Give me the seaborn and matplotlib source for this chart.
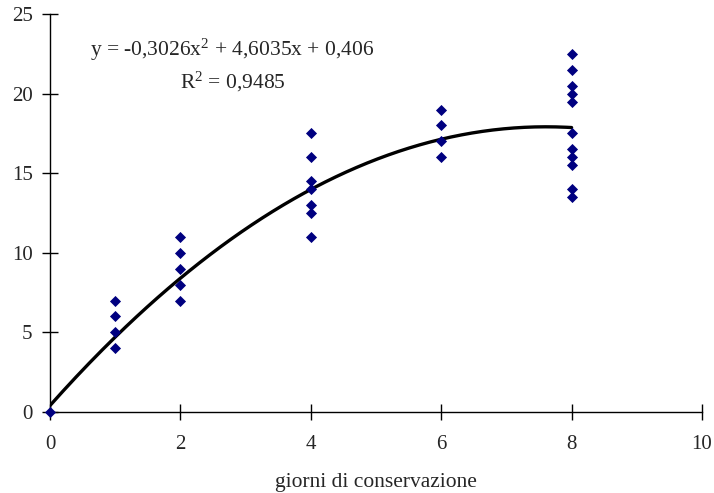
import numpy as np
import pandas as pd
import matplotlib
matplotlib.use("Agg")
import matplotlib.pyplot as plt
import seaborn as sns

# data
days = [0,
        1, 1, 1, 1,
        2, 2, 2, 2, 2,
        4, 4, 4, 4, 4, 4, 4,
        6, 6, 6, 6,
        8, 8, 8, 8, 8, 8, 8, 8, 8, 8, 8]
values = [0,
          7, 6, 5, 4,
          11, 10, 9, 8, 7,
          17.5, 16, 14.5, 14, 13, 12.5, 11,
          19, 18, 17, 16,
          22.5, 21.5, 20.5, 20, 19.5, 17.5, 16.5, 16, 15.5, 14, 13.5]

# trendline coefficients (as printed on the chart)
coef = [-0.3026, 4.6035, 0.406]
r2 = 0.9485

sns.set_theme(style="white")
plt.rcParams['font.family'] = ['Liberation Serif', 'DejaVu Serif']
plt.rcParams.update({
    'mathtext.fontset': 'custom',
    'mathtext.rm': 'Liberation Serif',
    'mathtext.it': 'Liberation Serif:italic',
    'mathtext.bf': 'Liberation Serif:bold',
})

df = pd.DataFrame({'giorni': days, 'valore': values})
xs = np.linspace(0, 8, 200)
trend = pd.DataFrame({'giorni': xs, 'valore': np.polyval(coef, xs)})

fig = plt.figure(figsize=(7.14, 4.93), dpi=100)
ax = fig.add_axes([50 / 714, 1 - 412 / 493, (702 - 50) / 714, (412 - 14) / 493])

sns.lineplot(data=trend, x='giorni', y='valore', color='black', linewidth=2.4, ax=ax)
sns.scatterplot(data=df, x='giorni', y='valore', marker='D', s=32, color='#000080',
                edgecolor='#000080', linewidth=0, ax=ax, zorder=3, clip_on=False)

ax.set_xlim(0, 10)
ax.set_ylim(0, 25)
ax.set_xticks(range(0, 11, 2))
ax.set_yticks(range(0, 26, 5))
ax.tick_params(axis='both', direction='inout', length=11, width=1, color='black',
               labelsize=15, bottom=True, left=True)
ax.tick_params(axis='x', pad=11)
ax.tick_params(axis='y', pad=7)
for side in ['top', 'right']:
    ax.spines[side].set_visible(False)
for side in ['left', 'bottom']:
    ax.spines[side].set_color('black')
    ax.spines[side].set_linewidth(1)

ax.set_xlabel('giorni di conservazione', fontsize=15.5, labelpad=14)
ax.set_ylabel('')

eq = r'y = -0,3026x$^{2}$ + 4,6035x + 0,406'
ax.text(0.61, 22.75, eq, fontsize=15.5, ha='left', va='center')
ax.text(2.0, 20.75, r'R$^{2}$ = 0,9485', fontsize=15.5, ha='left', va='center')

fig.savefig('out.png', dpi=100)
